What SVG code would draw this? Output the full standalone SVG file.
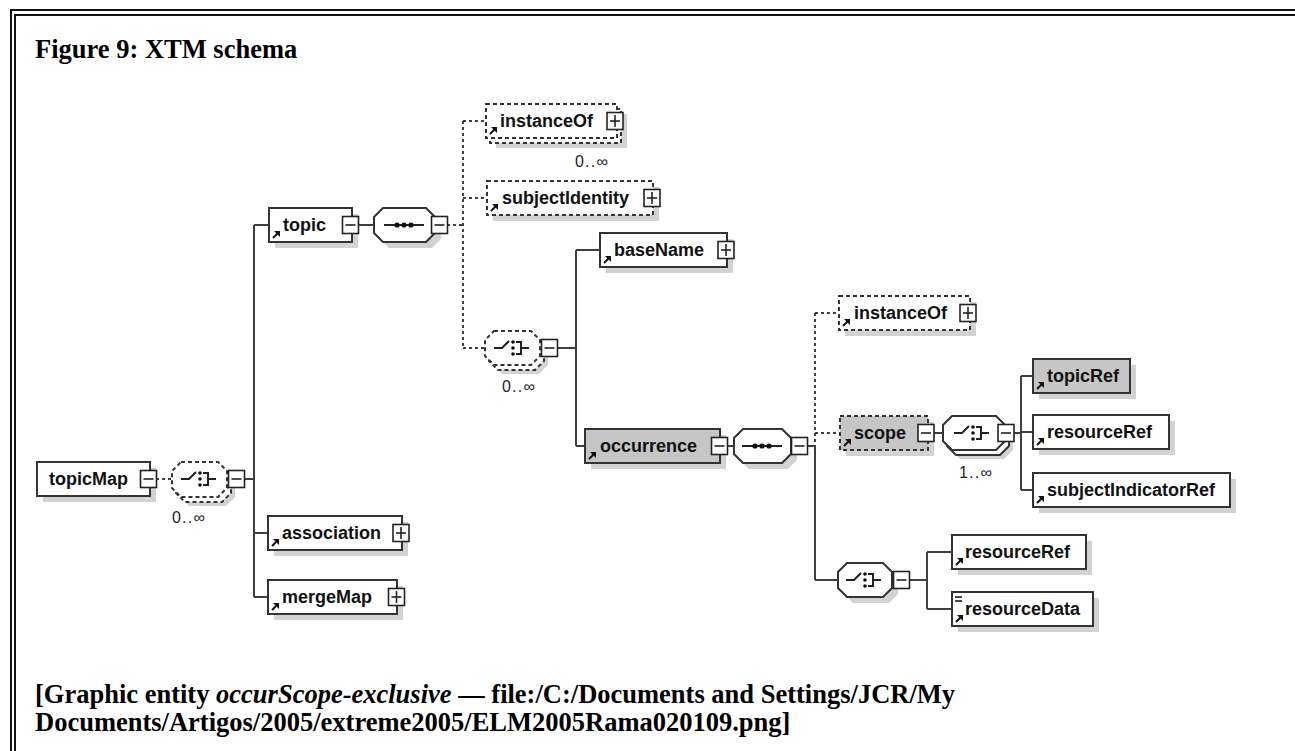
<svg xmlns="http://www.w3.org/2000/svg" xmlns:xlink="http://www.w3.org/1999/xlink" width="1295" height="751" viewBox="0 0 1295 751">
  <style>
    .frame { fill: none; stroke: #111; stroke-width: 2; }
    .cap { font-family: "Liberation Serif", "Times New Roman", serif; font-weight: bold; font-size: 26.5px; fill: #000; }
    .box { fill: #fff; stroke: #333; stroke-width: 2; }
    .grey { fill: #c6c6c6; }
    .dash { stroke-dasharray: 4 3; }
    .shadow { fill: #d2d2d2; stroke: none; }
    .lbl { font-family: "Liberation Sans", Arial, sans-serif; font-weight: bold; font-size: 18px; fill: #111; }
    .mult { font-family: "Liberation Sans", Arial, sans-serif; font-size: 16px; letter-spacing: 1.2px; fill: #222; }
    .ln { fill: none; stroke: #404040; stroke-width: 2; }
    .ln.d { stroke-dasharray: 3 3; }
    .sym { fill: none; stroke: #222; stroke-width: 2; }
    .dot { fill: #111; }
    .icon { fill: #fff; stroke: #222; stroke-width: 1.6; }
    .iconln { stroke: #222; stroke-width: 1.6; }
  </style>
  <defs>
    <!-- collapse / expand buttons, centred on (0,0) -->
    <g id="minus">
      <rect class="icon" x="-8" y="-8.5" width="16" height="17"/>
      <line class="iconln" x1="-5" y1="0" x2="5" y2="0"/>
    </g>
    <g id="plus">
      <rect class="icon" x="-8" y="-8.5" width="16" height="17"/>
      <line class="iconln" x1="-5" y1="0" x2="5" y2="0"/>
      <line class="iconln" x1="0" y1="-6" x2="0" y2="6"/>
    </g>
    <!-- global reference arrow, anchored at box bottom-left -->
    <g id="ref">
      <line x1="4" y1="-4" x2="9" y2="-9" stroke="#111" stroke-width="2"/>
      <polygon points="11,-11 5,-11 11,-5" fill="#111"/>
    </g>
    <!-- sequence symbol, centred -->
    <g id="seq">
      <line class="sym" x1="-20" y1="0" x2="20" y2="0"/>
      <circle class="dot" cx="-7" cy="0" r="2.6"/>
      <circle class="dot" cx="0" cy="0" r="2.6"/>
      <circle class="dot" cx="7" cy="0" r="2.6"/>
    </g>
    <!-- choice symbol, centred -->
    <g id="choice">
      <path class="sym" d="M-19 0 H-11 L-4 -7"/>
      <circle class="dot" cx="0" cy="-6" r="1.8"/>
      <circle class="dot" cx="0" cy="0" r="1.8"/>
      <circle class="dot" cx="0" cy="6" r="1.8"/>
      <path class="sym" d="M3 -6 H8 V6 H3 M8 0 H16"/>
    </g>
  </defs>

  <rect width="1295" height="751" fill="#fff"/>

  <!-- page frame -->
  <rect class="frame" x="11" y="10" width="1320" height="780"/>
  <rect class="frame" x="15" y="15" width="1320" height="780"/>

  <text class="cap" x="35" y="58">Figure 9: XTM schema</text>

  <!-- connectors -->
  <g id="connectors">
    <path class="ln" d="M245 479 H254 M254 225 V597 M254 225 H269 M254 533 H268 M254 597 H268 M358 225 H374 M558 348 H576 M576 250 V446 M576 250 H600 M576 446 H585 M728 446 H734 M807 446 H815 M815 446 V580 M815 580 H838 M933 433 H943 M1013 433 H1021 M1021 376 V490 M1021 376 H1033 M1021 432 H1033 M1021 490 H1033 M910 580 H927 M927 552 V609 M927 552 H952 M927 609 H952"/>
    <path class="ln d" d="M156 479 H172 M447 225 H463 M463 121 V348 M463 121 H486 M463 198 H487 M463 348 H485 M815 313 V446 M815 313 H839 M815 433 H840"/>
  </g>

  <!-- topicMap -->
  <g id="n-topicMap">
    <rect class="shadow" x="43" y="468" width="113" height="34"/>
    <rect class="box" x="37" y="462" width="113" height="34"/>
    <text class="lbl" x="49" y="485">topicMap</text>
    <use href="#minus" x="148.5" y="479"/>
  </g>

  <!-- choice 0..unbounded under topicMap -->
  <g id="n-choice1">
    <polygon class="shadow" points="189,471 226,471 235,480 235,497 226,506 189,506 180,497 180,480"/>
    <polygon class="box dash" points="185,467 222,467 231,476 231,493 222,502 185,502 176,493 176,476"/>
    <polygon class="box dash" points="181,462 218,462 227,471 227,488 218,497 181,497 172,488 172,471"/>
    <use href="#choice" x="200" y="479"/>
    <use href="#minus" x="236.5" y="479"/>
    <text class="mult" x="189" y="523" text-anchor="middle">0..∞</text>
  </g>

  <!-- topic -->
  <g id="n-topic">
    <rect class="shadow" x="275" y="214" width="83" height="34"/>
    <rect class="box" x="269" y="208" width="83" height="34"/>
    <use href="#ref" x="269" y="242"/>
    <text class="lbl" x="283" y="231">topic</text>
    <use href="#minus" x="350.5" y="225"/>
  </g>

  <g id="n-seq1">
    <polygon class="shadow" points="389,214 432,214 441,223 441,239 432,248 389,248 380,239 380,223"/>
    <polygon class="box" points="383,208 426,208 435,217 435,233 426,242 383,242 374,233 374,217"/>
    <use href="#seq" x="404" y="225"/>
    <use href="#minus" x="439.5" y="225"/>
  </g>

  <!-- instanceOf (topic) -->
  <g id="n-instanceOf1">
    <rect class="shadow" x="496" y="114" width="131" height="34"/>
    <rect class="box dash" x="490" y="109" width="131" height="34"/>
    <rect class="box dash" x="486" y="104" width="131" height="34"/>
    <use href="#ref" x="486" y="138"/>
    <text class="lbl" x="500" y="127">instanceOf</text>
    <use href="#plus" x="615" y="121"/>
    <text class="mult" x="575" y="167">0..∞</text>
  </g>

  <!-- subjectIdentity -->
  <g id="n-subjectIdentity">
    <rect class="shadow" x="493" y="187" width="166" height="34"/>
    <rect class="box dash" x="487" y="181" width="166" height="34"/>
    <use href="#ref" x="487" y="215"/>
    <text class="lbl" x="502" y="204">subjectIdentity</text>
    <use href="#plus" x="652" y="198"/>
  </g>

  <!-- choice 0..unbounded under topic -->
  <g id="n-choice2">
    <polygon class="shadow" points="502,340 539,340 548,349 548,365 539,374 502,374 493,365 493,349"/>
    <polygon class="box dash" points="498,336 535,336 544,345 544,361 535,370 498,370 489,361 489,345"/>
    <polygon class="box dash" points="494,331 531,331 540,340 540,356 531,365 494,365 485,356 485,340"/>
    <use href="#choice" x="513" y="348"/>
    <use href="#minus" x="549.5" y="348"/>
    <text class="mult" x="502" y="392">0..∞</text>
  </g>

  <!-- baseName -->
  <g id="n-baseName">
    <rect class="shadow" x="606" y="239" width="127" height="34"/>
    <rect class="box" x="600" y="233" width="127" height="34"/>
    <use href="#ref" x="600" y="267"/>
    <text class="lbl" x="614" y="256">baseName</text>
    <use href="#plus" x="726" y="250"/>
  </g>

  <!-- occurrence -->
  <g id="n-occurrence">
    <rect class="shadow" x="591" y="435" width="135" height="34"/>
    <rect class="box grey" x="585" y="429" width="135" height="34"/>
    <use href="#ref" x="585" y="463"/>
    <text class="lbl" x="600" y="452">occurrence</text>
    <use href="#minus" x="719.5" y="446"/>
  </g>

  <g id="n-seq2">
    <polygon class="shadow" points="749,435 788,435 797,444 797,460 788,469 749,469 740,460 740,444"/>
    <polygon class="box" points="743,429 782,429 791,438 791,454 782,463 743,463 734,454 734,438"/>
    <use href="#seq" x="762" y="446"/>
    <use href="#minus" x="799.5" y="446"/>
  </g>

  <!-- instanceOf (occurrence) -->
  <g id="n-instanceOf2">
    <rect class="shadow" x="845" y="302" width="131" height="34"/>
    <rect class="box dash" x="839" y="296" width="131" height="34"/>
    <use href="#ref" x="839" y="330"/>
    <text class="lbl" x="854" y="319">instanceOf</text>
    <use href="#plus" x="968" y="313"/>
  </g>

  <!-- scope -->
  <g id="n-scope">
    <rect class="shadow" x="846" y="422" width="88" height="34"/>
    <rect class="box grey dash" x="840" y="416" width="88" height="34"/>
    <use href="#ref" x="840" y="450"/>
    <text class="lbl" x="854" y="439">scope</text>
    <use href="#minus" x="926" y="433"/>
  </g>

  <!-- choice 1..unbounded under scope -->
  <g id="n-choice3">
    <polygon class="shadow" points="960,425 1004,425 1013,434 1013,450 1004,459 960,459 951,450 951,434"/>
    <polygon class="box" points="956,421 1000,421 1009,430 1009,446 1000,455 956,455 947,446 947,430"/>
    <polygon class="box" points="952,416 996,416 1005,425 1005,441 996,450 952,450 943,441 943,425"/>
    <use href="#choice" x="973" y="433"/>
    <use href="#minus" x="1006" y="433"/>
    <text class="mult" x="959" y="478">1..∞</text>
  </g>

  <!-- topicRef -->
  <g id="n-topicRef">
    <rect class="shadow" x="1039" y="365" width="97" height="34"/>
    <rect class="box grey" x="1033" y="359" width="97" height="34"/>
    <use href="#ref" x="1033" y="393"/>
    <text class="lbl" x="1047" y="382">topicRef</text>
  </g>

  <!-- resourceRef (scope) -->
  <g id="n-resourceRef1">
    <rect class="shadow" x="1039" y="421" width="136" height="34"/>
    <rect class="box" x="1033" y="415" width="136" height="34"/>
    <use href="#ref" x="1033" y="449"/>
    <text class="lbl" x="1047" y="438">resourceRef</text>
  </g>

  <!-- subjectIndicatorRef -->
  <g id="n-subjectIndicatorRef">
    <rect class="shadow" x="1039" y="479" width="197" height="34"/>
    <rect class="box" x="1033" y="473" width="197" height="34"/>
    <use href="#ref" x="1033" y="507"/>
    <text class="lbl" x="1047" y="496">subjectIndicatorRef</text>
  </g>

  <!-- choice under occurrence -->
  <g id="n-choice4">
    <polygon class="shadow" points="853,569 889,569 898,578 898,594 889,603 853,603 844,594 844,578"/>
    <polygon class="box" points="847,563 883,563 892,572 892,588 883,597 847,597 838,588 838,572"/>
    <use href="#choice" x="865" y="580"/>
    <use href="#minus" x="901.5" y="580"/>
  </g>

  <!-- resourceRef (occurrence) -->
  <g id="n-resourceRef2">
    <rect class="shadow" x="958" y="541" width="134" height="34"/>
    <rect class="box" x="952" y="535" width="134" height="34"/>
    <use href="#ref" x="952" y="569"/>
    <text class="lbl" x="965" y="558">resourceRef</text>
  </g>

  <!-- resourceData -->
  <g id="n-resourceData">
    <rect class="shadow" x="958" y="598" width="141" height="34"/>
    <rect class="box" x="952" y="592" width="141" height="34"/>
    <path d="M955 597 H962 M955 601 H962" stroke="#111" stroke-width="1.5"/>
    <use href="#ref" x="952" y="626"/>
    <text class="lbl" x="965" y="615">resourceData</text>
  </g>

  <!-- association -->
  <g id="n-association">
    <rect class="shadow" x="274" y="522" width="134" height="34"/>
    <rect class="box" x="268" y="516" width="134" height="34"/>
    <use href="#ref" x="268" y="550"/>
    <text class="lbl" x="282" y="539">association</text>
    <use href="#plus" x="401" y="533"/>
  </g>

  <!-- mergeMap -->
  <g id="n-mergeMap">
    <rect class="shadow" x="274" y="586" width="129" height="34"/>
    <rect class="box" x="268" y="580" width="129" height="34"/>
    <use href="#ref" x="268" y="614"/>
    <text class="lbl" x="282" y="603">mergeMap</text>
    <use href="#plus" x="396.5" y="597"/>
  </g>

  <text class="cap" x="35" y="703">[Graphic entity <tspan font-style="italic">occurScope-exclusive</tspan> — file:/C:/Documents and Settings/JCR/My</text>
  <text class="cap" x="35" y="731">Documents/Artigos/2005/extreme2005/ELM2005Rama020109.png]</text>
</svg>
